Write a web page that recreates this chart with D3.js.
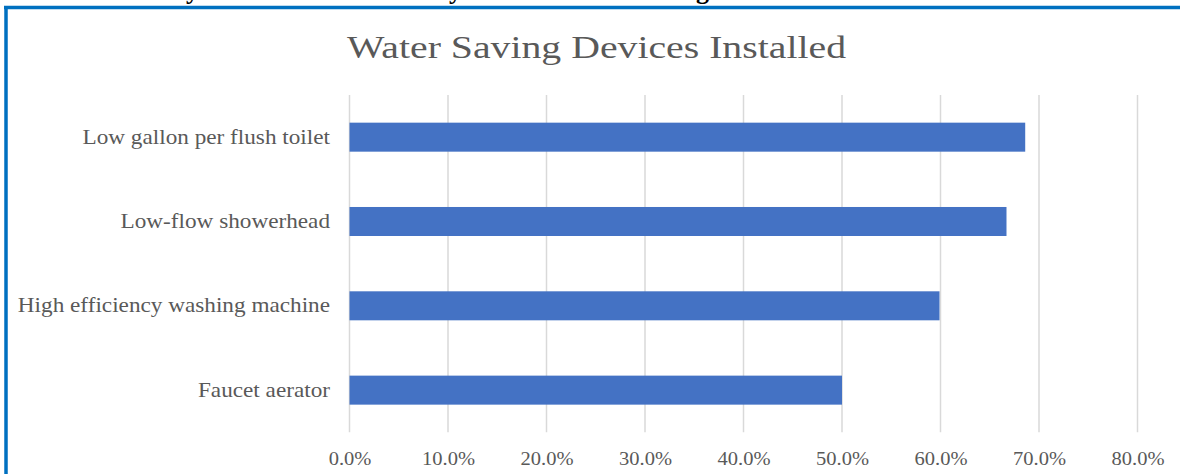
<!DOCTYPE html>
<html>
  <head>
    <meta charset="utf-8">
    <title>Water Saving Devices Installed</title>
    <script src="https://d3js.org/d3.v7.min.js"></script>
    <style>
      body { margin: 0; background: #fff; }
      svg { display: block; font-family: "Liberation Serif", "DejaVu Serif", serif; }
    </style>
  </head>
  <body>
    <div id="chart"></div>
    <script>
      // data
      var devices = ["Low gallon per flush toilet", "Low-flow showerhead", "High efficiency washing machine", "Faucet aerator"];
      var shares = [0.686, 0.667, 0.599, 0.500];
      var ticks = [0, 0.1, 0.2, 0.3, 0.4, 0.5, 0.6, 0.7, 0.8];
      var title = "Water Saving Devices Installed";

      var width = 1180, height = 474;
      var margin = { top: 95, right: 42, bottom: 42, left: 349.5 };

      var svg = d3.select("#chart")
        .append("svg")
          .attr("width", width)
          .attr("height", height);

      // stretch a text a little sideways, the source font is wider
      function widen(sel, k) {
        sel.each(function() {
          var w = this.getComputedTextLength();
          d3.select(this)
            .attr("textLength", w * k)
            .attr("lengthAdjust", "spacingAndGlyphs");
        });
      }

      // cut-off line of the page text above the chart
      svg.append("g")
          .attr("font-weight", "bold")
          .attr("font-size", 26)
          .attr("fill", "#000")
        .selectAll("text")
          .data([[186, "y"], [449, "y"], [696, "g"]])
        .enter().append("text")
          .attr("x", function(d) { return d[0]; })
          .attr("y", -1)
          .text(function(d) { return d[1]; });

      // blue frame
      svg.append("line")
        .attr("x1", 4).attr("x2", width)
        .attr("y1", 7.5).attr("y2", 7.5)
        .attr("stroke", "#0070c0")
        .attr("stroke-width", 3.5);
      svg.append("line")
        .attr("x1", 6).attr("x2", 6)
        .attr("y1", 6).attr("y2", height)
        .attr("stroke", "#0070c0")
        .attr("stroke-width", 3.5);

      // title
      svg.append("text")
        .attr("x", 596.5)
        .attr("y", 57.5)
        .attr("text-anchor", "middle")
        .attr("font-size", 32)
        .attr("fill", "#595959")
        .attr("textLength", 499)
        .attr("lengthAdjust", "spacingAndGlyphs")
        .text(title);

      var x = d3.scaleLinear()
        .domain([0, 0.8])
        .range([margin.left, margin.left + 788]);
      var y = d3.scaleBand()
        .domain(devices)
        .range([margin.top, height - margin.bottom + 0.3])
        .paddingInner(0.656)
        .paddingOuter(0.328);

      // gridlines
      svg.append("g")
        .selectAll("line")
          .data(ticks)
        .enter().append("line")
          .attr("x1", function(d) { return x(d); })
          .attr("x2", function(d) { return x(d); })
          .attr("y1", margin.top)
          .attr("y2", height - margin.bottom + 0.3)
          .attr("stroke", "#d9d9d9")
          .attr("stroke-width", 1.5);

      // bars
      svg.append("g")
        .selectAll("rect")
          .data(devices)
        .enter().append("rect")
          .attr("x", x(0))
          .attr("y", function(d) { return y(d); })
          .attr("width", function(d, i) { return x(shares[i]) - x(0); })
          .attr("height", y.bandwidth())
          .attr("fill", "#4472c4");

      // category labels
      var yAxis = svg.append("g")
        .attr("transform", "translate(" + (margin.left - 19.5) + ",0)")
        .call(d3.axisLeft(y).tickSize(0).tickPadding(0));
      yAxis.select(".domain").remove();
      yAxis.selectAll("text")
        .attr("font-family", "Liberation Serif")
        .attr("font-size", 22)
        .attr("fill", "#595959")
        .attr("dy", "0.3em")
        .call(widen, 1.055);

      // value axis labels
      var xAxis = svg.append("g")
        .attr("transform", "translate(0," + (height - margin.bottom) + ")")
        .call(d3.axisBottom(x).tickValues(ticks).tickSize(0).tickPadding(0).tickFormat(d3.format(".1%")));
      xAxis.select(".domain").remove();
      xAxis.selectAll("text")
        .attr("font-family", "Liberation Serif")
        .attr("font-size", 19)
        .attr("fill", "#595959")
        .attr("dy", "1.75em")
        .call(widen, 1.08);
    </script>
  </body>
</html>
